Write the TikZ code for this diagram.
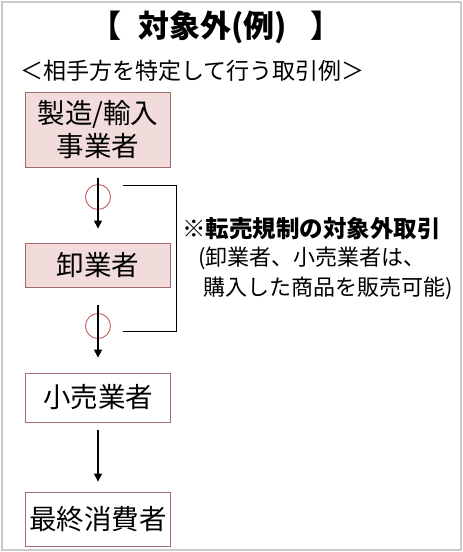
\documentclass[tikz,border=0pt]{standalone}
\usepackage{fontspec}
\setmainfont{Noto Sans CJK JP}
\usetikzlibrary{arrows.meta,positioning,calc}
\definecolor{boxpink}{HTML}{F2DCDB}
\definecolor{boxline}{HTML}{A26C6C}
\definecolor{ringred}{HTML}{C0605E}
\definecolor{framegray}{HTML}{CACACA}
\tikzset{
  flow/.style={-{Triangle[length=8pt,width=8pt]},line width=1.1pt,black},
  stepbox/.style={draw=boxline,line width=0.8pt,minimum width=145pt,align=center,
    inner sep=0pt,font=\fontsize{27.5}{33}\selectfont},
  pinkbox/.style={stepbox,fill=boxpink},
  ring/.style={circle,draw=ringred,line width=0.9pt,minimum size=25pt,inner sep=0pt},
  notetext/.style={font=\fontsize{22}{26}\selectfont,anchor=west,inner sep=0pt}
}

\begin{document}
\begin{tikzpicture}[x=1pt,y=-1pt]
\useasboundingbox (0,0) rectangle (463,552);
\draw[framegray,line width=1.2pt] (2,2) rectangle (461,550);
% heading
\node[font=\fontsize{31}{34}\selectfont\bfseries,anchor=west,inner sep=0pt] (title) at (90,27)
  {【\hspace{0.55em}対象外(例)\hspace{0.75em}】};
\node[font=\fontsize{23}{26}\selectfont,anchor=west,inner sep=0pt] (sub) at (20,71)
  {＜相手方を特定して行う取引例＞};
% chain of traders
\node[pinkbox,minimum height=75pt] (maker) at (98,130) {製造/輸入\\事業者};
\node[pinkbox,minimum height=44pt] (whole) at (98,265) {卸業者};
\node[stepbox,minimum height=49pt] (retail) at (98,397.5) {小売業者};
\node[stepbox,minimum height=54pt] (consumer) at (98,519) {最終消費者};
\node[ring] (r1) at (98,197) {};
\node[ring] (r2) at (98,326) {};
\draw[flow,shorten <=10pt,shorten >=14pt] (maker.south) -- (whole.north);
\draw[flow,shorten <=18pt,shorten >=15pt] (whole.south) -- (retail.north);
\draw[flow,shorten <=8pt,shorten >=10pt] (retail.south) -- (consumer.north);
% bracket and note
\coordinate (brtop) at (123,185);
\coordinate (brbot) at (123,331);
\draw[line width=0.8pt] (brtop) -- ++(53,0) |- (brbot);
\node[notetext,font=\fontsize{23.5}{28}\selectfont\bfseries] (note1) at (182,229)
  {※転売規制の対象外取引};
\node[notetext] (note2) at (198,258) {(卸業者、小売業者は、};
\node[notetext] (note3) at (203,288) {購入した商品を販売可能)};
\end{tikzpicture}
\end{document}
